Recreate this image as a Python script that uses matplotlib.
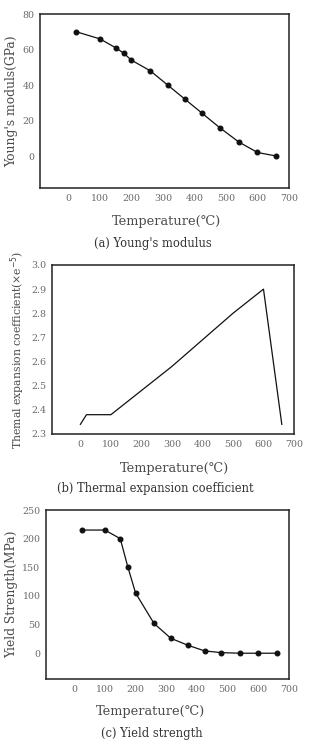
import matplotlib
matplotlib.use('Agg')
import matplotlib.pyplot as plt

plt.rcParams['font.family'] = ['DejaVu Serif', 'DejaVu Sans']

# (a) Young's modulus
temp_a = [25, 100, 150, 175, 200, 260, 315, 370, 425, 480, 540, 600, 660]
young = [70, 66, 61, 58, 54, 48, 40, 32, 24, 16, 8, 2, 0]

# (b) Thermal expansion coefficient
temp_b = [0, 20, 100, 300, 500, 600, 660]
expan = [2.34, 2.38, 2.38, 2.58, 2.80, 2.90, 2.34]

# (c) Yield strength
temp_c = [25, 100, 150, 175, 200, 260, 315, 370, 425, 480, 540, 600, 660]
yieldst = [215, 215, 200, 150, 105, 52, 26, 14, 4, 1, 0, 0, 0]

W, H = 310, 749
fig = plt.figure(figsize=(W / 100, H / 100), dpi=100)

tick_col = '#6a6a6a'
lab_col = '#4a4a4a'


def box(l, t, r, b):
    return [l / W, 1 - b / H, (r - l) / W, (b - t) / H]


def style(ax, xlim, ylim, yticks, yfmt=None):
    ax.set_xlim(*xlim)
    ax.set_ylim(*ylim)
    ax.set_xticks(range(0, 701, 100))
    ax.set_yticks(yticks)
    if yfmt:
        ax.set_yticklabels([yfmt % v for v in yticks])
    ax.tick_params(length=0, labelsize=6.8, colors=tick_col, pad=4)
    for s in ax.spines.values():
        s.set_linewidth(1.1)
        s.set_color('#222222')


# panel a
ax1 = fig.add_axes(box(40, 14, 289, 188))
ax1.plot(temp_a, young, color='#111111', lw=0.9, marker='o', ms=3.3)
style(ax1, (-90, 700), (-18, 80), [0, 20, 40, 60, 80])
ax1.set_ylabel("Young's moduls(GPa)", fontsize=8.8, color=lab_col, labelpad=3)
fig.text(167 / W, 1 - 221 / H, 'Temperature(℃)', ha='center', va='center', fontsize=9.3, color=lab_col)
fig.text(153 / W, 1 - 243 / H, "(a) Young's modulus", ha='center', va='center', fontsize=8.3, color='#333333')

# panel b
ax2 = fig.add_axes(box(52, 265, 294, 434))
ax2.plot(temp_b, expan, color='#111111', lw=0.9)
style(ax2, (-93, 700), (2.3, 3.0), [2.3, 2.4, 2.5, 2.6, 2.7, 2.8, 2.9, 3.0], '%.1f')
ax2.set_ylabel('Themal expansion coefficient(×e$^{-5}$)', fontsize=7.8, color=lab_col, labelpad=3)
fig.text(174 / W, 1 - 469 / H, 'Temperature(℃)', ha='center', va='center', fontsize=9.3, color=lab_col)
fig.text(155 / W, 1 - 489 / H, '(b) Thermal expansion coefficient', ha='center', va='center', fontsize=8.3, color='#333333')

# panel c
ax3 = fig.add_axes(box(46, 510, 289, 679))
ax3.plot(temp_c, yieldst, color='#111111', lw=0.9, marker='o', ms=3.3)
style(ax3, (-92, 700), (-45, 250), [0, 50, 100, 150, 200, 250])
ax3.set_ylabel('Yield Strength(MPa)', fontsize=8.8, color=lab_col, labelpad=3)
fig.text(150 / W, 1 - 712 / H, 'Temperature(℃)', ha='center', va='center', fontsize=9.3, color=lab_col)
fig.text(152 / W, 1 - 734 / H, '(c) Yield strength', ha='center', va='center', fontsize=8.3, color='#333333')

fig.savefig('out.png', dpi=100)
